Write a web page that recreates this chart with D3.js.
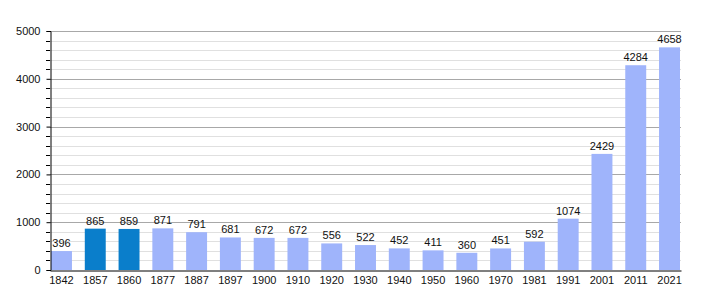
<!DOCTYPE html>
<html>
<head>
<meta charset="utf-8">
<script src="https://cdn.jsdelivr.net/npm/d3@7"></script>
<style>
  body { margin: 0; background: #fff; }
  svg { display: block; font-family: "Liberation Sans", Arial, sans-serif; }
</style>
</head>
<body>
<svg width="710" height="300"></svg>
<script>
const years = ["1842","1857","1860","1877","1887","1897","1900","1910","1920","1930","1940","1950","1960","1970","1981","1991","2001","2011","2021"];
const population = [396,865,859,871,791,681,672,672,556,522,452,411,360,451,592,1074,2429,4284,4658];
const highlighted = ["1857","1860"];
const yTicks = [0,1000,2000,3000,4000,5000];

const svg = d3.select("svg");
const margin = {top: 31, right: 29, bottom: 30, left: 50};
const width = +svg.attr("width");
const height = +svg.attr("height");

const x = d3.scaleBand()
  .domain(years)
  .range([margin.left, width - margin.right])
  .paddingInner(0.38)
  .paddingOuter(0.03);

const y = d3.scaleLinear()
  .domain([0, 5000])
  .range([height - margin.bottom, margin.top]);

// minor grid every 200
const minor = d3.range(200, 5001, 200).filter(v => v % 1000 !== 0);
svg.append("g")
  .selectAll("line")
  .data(minor)
  .join("line")
  .attr("x1", margin.left)
  .attr("x2", width - margin.right)
  .attr("y1", d => Math.round(y(d)) + 0.5)
  .attr("y2", d => Math.round(y(d)) + 0.5)
  .attr("stroke", "#e0e0e0");

svg.append("g")
  .selectAll("line")
  .data(yTicks.filter(d => d > 0))
  .join("line")
  .attr("x1", margin.left)
  .attr("x2", width - margin.right)
  .attr("y1", d => Math.round(y(d)) + 0.5)
  .attr("y2", d => Math.round(y(d)) + 0.5)
  .attr("stroke", "#a8a8a8");

// bars
svg.append("g")
  .selectAll("rect")
  .data(years)
  .join("rect")
  .attr("x", d => x(d))
  .attr("width", x.bandwidth())
  .attr("y", (d, i) => y(population[i]))
  .attr("height", (d, i) => y(0) - y(population[i]))
  .attr("fill", d => highlighted.includes(d) ? "#0a7ecb" : "#9fb4fb");

// value labels
svg.append("g")
  .attr("font-size", 11)
  .attr("text-anchor", "middle")
  .selectAll("text")
  .data(years)
  .join("text")
  .attr("x", d => x(d) + x.bandwidth() / 2)
  .attr("y", (d, i) => y(population[i]) - 4)
  .attr("fill", "#111")
  .text((d, i) => population[i]);

// y axis
const yAxis = svg.append("g")
  .attr("transform", `translate(${margin.left + 0.5},0)`)
  .call(d3.axisLeft(y).tickValues(yTicks).tickSize(4).tickPadding(6).tickFormat(d3.format("d")));
yAxis.select(".domain").attr("stroke", "#000");
yAxis.selectAll(".tick line").attr("stroke", "#000");
yAxis.selectAll("text").attr("font-size", 11).attr("fill", "#111").attr("font-family", "inherit");

svg.append("g")
  .selectAll("line")
  .data(minor)
  .join("line")
  .attr("x1", margin.left - 4)
  .attr("x2", margin.left)
  .attr("y1", d => Math.round(y(d)) + 0.5)
  .attr("y2", d => Math.round(y(d)) + 0.5)
  .attr("stroke", "#000");

// x axis
const xAxis = svg.append("g")
  .attr("transform", `translate(0,${height - margin.bottom + 0.5})`)
  .call(d3.axisBottom(x).tickSize(0).tickPadding(6));
xAxis.select(".domain").attr("stroke", "#000");
xAxis.selectAll("text").attr("font-size", 11).attr("fill", "#111").attr("font-family", "inherit");
</script>
</body>
</html>
